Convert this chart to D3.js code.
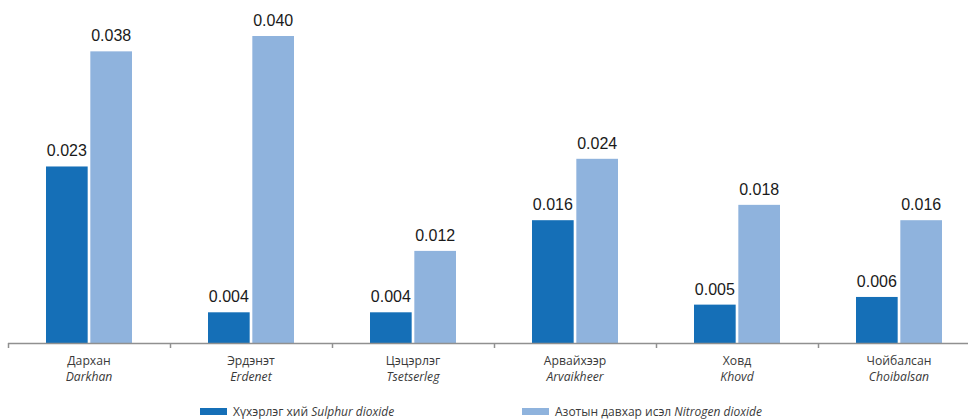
<!DOCTYPE html>
<html>
<head>
<meta charset="utf-8">
<script src="https://cdn.jsdelivr.net/npm/d3@7"></script>
<style>
  body { margin: 0; background: #fff; }
  svg { display: block; }
</style>
</head>
<body>
<svg id="chart" width="968" height="419"></svg>
<script>
const citiesMn = ["Дархан", "Эрдэнэт", "Цэцэрлэг", "Арвайхээр", "Ховд", "Чойбалсан"];
const citiesEn = ["Darkhan", "Erdenet", "Tsetserleg", "Arvaikheer", "Khovd", "Choibalsan"];
const sulphur = [0.023, 0.004, 0.004, 0.016, 0.005, 0.006];
const nitrogen = [0.038, 0.040, 0.012, 0.024, 0.018, 0.016];
const seriesNames = [
  ["Хүхэрлэг хий ", "Sulphur dioxide"],
  ["Азотын давхар исэл ", "Nitrogen dioxide"]
];
const colors = ["#156fb7", "#8fb3dd"];

const svg = d3.select("#chart");
const baseY = 343;

const x = d3.scaleBand()
  .domain(citiesEn)
  .range([8, 980])
  .paddingInner(0)
  .paddingOuter(0);

const inner = d3.scaleBand()
  .domain([0, 1])
  .range([38, 124])
  .paddingInner(0.06);

const y = d3.scaleLinear()
  .domain([0, 0.04])
  .range([baseY, 36]);

const rows = citiesEn.map((c, i) => ({ city: c, mn: citiesMn[i], vals: [sulphur[i], nitrogen[i]] }));

const groups = svg.append("g")
  .selectAll("g")
  .data(rows)
  .enter().append("g")
  .attr("transform", d => `translate(${x(d.city)},0)`);

groups.selectAll("rect")
  .data(d => d.vals.map((v, k) => ({ v, k })))
  .enter().append("rect")
  .attr("x", d => inner(d.k))
  .attr("width", inner.bandwidth())
  .attr("y", d => y(d.v))
  .attr("height", d => baseY - y(d.v))
  .attr("fill", d => colors[d.k]);

groups.selectAll("text.val")
  .data(d => d.vals.map((v, k) => ({ v, k })))
  .enter().append("text")
  .attr("class", "val")
  .attr("x", d => inner(d.k) + inner.bandwidth() / 2)
  .attr("y", d => y(d.v) - 10)
  .attr("text-anchor", "middle")
  .attr("font-family", "'Liberation Sans', Arial, sans-serif")
  .attr("font-size", 16)
  .attr("fill", "#1a1a1a")
  .text(d => d3.format(".3f")(d.v));

// axis
const axis = svg.append("g");
axis.append("line")
  .attr("x1", 8).attr("x2", 980)
  .attr("y1", baseY + 0.5).attr("y2", baseY + 0.5)
  .attr("stroke", "#909090").attr("stroke-width", 1.5);
axis.selectAll("line.tick")
  .data(citiesEn.concat(["end"]))
  .enter().append("line")
  .attr("class", "tick")
  .attr("x1", (d, i) => (i < citiesEn.length ? x(d) : x.range()[1]) + 0.5)
  .attr("x2", (d, i) => (i < citiesEn.length ? x(d) : x.range()[1]) + 0.5)
  .attr("y1", baseY).attr("y2", baseY + 5)
  .attr("stroke", "#909090").attr("stroke-width", 1.5);

const lab = axis.selectAll("g.lab")
  .data(rows)
  .enter().append("g")
  .attr("transform", d => `translate(${x(d.city) + x.bandwidth() / 2},0)`)
  .attr("font-family", "'Open Sans', sans-serif")
  .attr("font-size", 12.2)
  .attr("fill", "#3a3a3a")
  .attr("text-anchor", "middle");
lab.append("text").attr("y", 365).text(d => d.mn);
lab.append("text").attr("y", 381).attr("font-style", "italic").text(d => d.city);

// legend
const legendX = [200, 522];
const leg = svg.append("g").selectAll("g")
  .data(seriesNames)
  .enter().append("g")
  .attr("transform", (d, i) => `translate(${legendX[i]},0)`);
leg.append("rect")
  .attr("x", 0).attr("y", 408).attr("width", 27).attr("height", 7)
  .attr("fill", (d, i) => colors[i]);
const lt = leg.append("text")
  .attr("x", 33).attr("y", 416)
  .attr("font-family", "'Open Sans', sans-serif")
  .attr("font-size", 12)
  .attr("fill", "#3a3a3a");
lt.append("tspan").text(d => d[0]);
lt.append("tspan").attr("font-style", "italic").text(d => d[1]);
</script>
</body>
</html>
